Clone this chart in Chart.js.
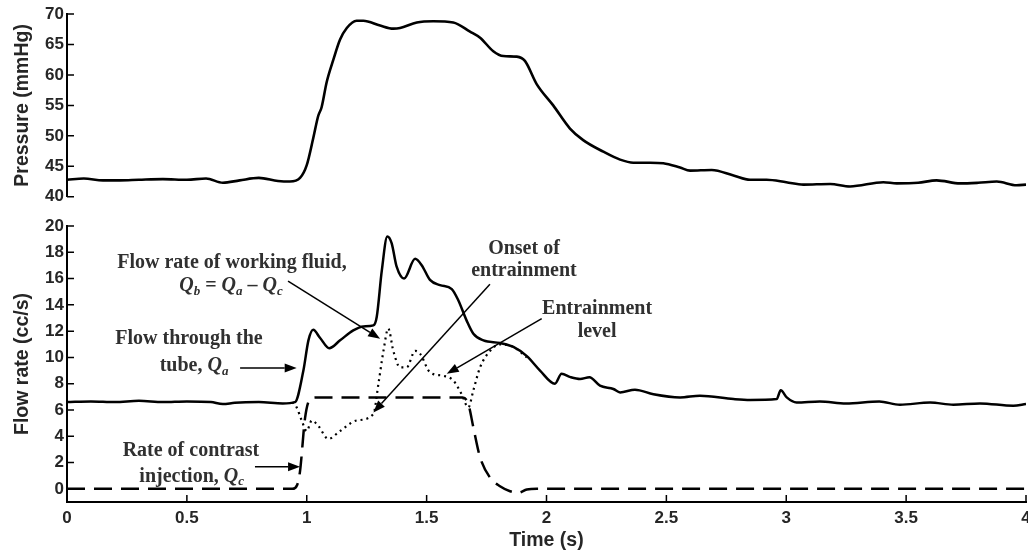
<!DOCTYPE html>
<html>
<head>
<meta charset="utf-8">
<script src="https://cdn.jsdelivr.net/npm/chart.js@4.4.1/dist/chart.umd.min.js"></script>
<style>
  html, body { margin: 0; padding: 0; background: #fff; }
  #wrap { position: relative; width: 1028px; height: 552px; overflow: hidden; }
  #pressureChart { position: absolute; left: 0; top: 0; }
  #flowChart { position: absolute; left: 0; top: 210px; }
</style>
</head>
<body>
<div id="wrap">
  <canvas id="pressureChart" width="1028" height="210"></canvas>
  <canvas id="flowChart" width="1028" height="342"></canvas>
</div>
<script>
// ── tick values ──
const timeTicks = [0, 0.5, 1, 1.5, 2, 2.5, 3, 3.5, 4];
const pressureTicks = [40, 45, 50, 55, 60, 65, 70];
const flowTicks = [0, 2, 4, 6, 8, 10, 12, 14, 16, 18, 20];

// ── pressure (mmHg) ──
const pressureTime = [0, 0.07, 0.15, 0.22, 0.3, 0.4, 0.5, 0.58, 0.65, 0.72, 0.8, 0.88, 0.93, 0.972, 1.0, 1.027,
  1.048, 1.062, 1.083, 1.111, 1.139, 1.167, 1.208, 1.236, 1.306, 1.361, 1.389, 1.459, 1.528, 1.611, 1.681,
  1.723, 1.778, 1.82, 1.876, 1.91, 1.959, 2.028, 2.098, 2.153, 2.237, 2.307, 2.362, 2.432, 2.487, 2.557,
  2.599, 2.689, 2.78, 2.849, 2.918, 3.0, 3.071, 3.183, 3.266, 3.405, 3.461, 3.55, 3.627, 3.725, 3.8,
  3.878, 3.961, 4.0];
const pressure = [42.8, 43.0, 42.7, 42.7, 42.8, 42.9, 42.8, 43.0, 42.3, 42.7, 43.1, 42.6, 42.5, 43.1, 45.2, 49.6,
  53.3, 54.7, 58.8, 62.5, 65.8, 67.7, 68.9, 68.9, 68.1, 67.6, 67.7, 68.6, 68.8, 68.6, 67.1,
  66.1, 63.9, 63.1, 63.0, 62.3, 58.5, 55.0, 51.2, 49.3, 47.4, 46.1, 45.6, 45.6, 45.5, 44.8,
  44.3, 44.4, 43.5, 42.8, 42.8, 42.4, 42.0, 42.1, 41.7, 42.4, 42.2, 42.3, 42.7, 42.2, 42.3,
  42.5, 41.9, 42.0];

// ── flow through the tube, Qa (cc/s) ──
const flowATime = [0, 0.1, 0.2, 0.3, 0.4, 0.5, 0.6, 0.65, 0.7, 0.8, 0.9, 0.951, 0.986, 1.007, 1.027, 1.055,
  1.094, 1.139, 1.194, 1.236, 1.278, 1.292, 1.313, 1.336, 1.354, 1.375, 1.406, 1.452, 1.48, 1.514,
  1.556, 1.605, 1.632, 1.667, 1.695, 1.737, 1.806, 1.862, 1.918, 1.973, 2.035, 2.063, 2.1, 2.14,
  2.179, 2.223, 2.279, 2.307, 2.369, 2.446, 2.557, 2.64, 2.78, 2.849, 2.96, 2.977, 3.002, 3.043,
  3.14, 3.249, 3.388, 3.474, 3.6, 3.697, 3.808, 3.947, 4.0];
const flowA = [6.6, 6.65, 6.6, 6.7, 6.6, 6.65, 6.6, 6.45, 6.55, 6.6, 6.5, 6.6, 9.0, 11.3, 12.1, 11.5,
  10.7, 11.3, 12.06, 12.36, 12.44, 13.1, 16.6, 19.2, 18.7, 16.9, 16.0, 17.5, 17.0, 15.9,
  15.5, 15.2, 14.35, 12.8, 11.8, 11.3, 11.1, 10.8, 10.1, 9.0, 8.0, 8.75, 8.5, 8.36,
  8.49, 7.85, 7.6, 7.34, 7.55, 7.2, 6.96, 7.09, 6.83, 6.76, 6.83, 7.5, 6.96, 6.57,
  6.65, 6.5, 6.65, 6.4, 6.57, 6.4, 6.5, 6.32, 6.45];

// ── rate of contrast injection, Qc (cc/s) ──
const flowCTime = [0, 0.94, 0.96, 0.972, 0.993, 1.014, 1.04, 1.65, 1.674, 1.695, 1.723, 1.765, 1.806,
  1.848, 1.882, 1.918, 1.96, 4.0];
const flowC = [0, 0, 0.3, 1.35, 5.4, 6.83, 6.95, 6.95, 6.45, 4.67, 2.4, 0.84, 0.2,
  -0.18, -0.3, -0.05, 0, 0];

// ── working fluid, Qb = Qa - Qc (cc/s) ──
const flowBTime = [0.94, 0.958, 0.979, 1.0, 1.021, 1.048, 1.09, 1.139, 1.208, 1.278, 1.299, 1.32, 1.34,
  1.361, 1.389, 1.417, 1.452, 1.472, 1.514, 1.57, 1.612, 1.646, 1.674, 1.695, 1.723, 1.765,
  1.806, 1.862, 1.918];
const flowB = [6.6, 6.2, 5.2, 4.4, 5.2, 4.8, 3.8, 4.4, 5.2, 5.7, 8.0, 10.5, 12.2,
  10.5, 9.25, 9.25, 10.5, 10.3, 8.87, 8.6, 8.23, 7.2, 6.2, 7.5, 9.25, 10.5,
  11.0, 10.8, 10.0];

// ── callouts, in data units [time, flow] ──
const notes = [
  { lines: [[['Flow rate of working fluid,', 'n']],
            [['Q', 'q'], ['b', 's'], [' = ', 'n'], ['Q', 'q'], ['a', 's'], [' \u2013 ', 'n'], ['Q', 'q'], ['c', 's']]],
    at: [[0.688, 17.18], [0.684, 15.41]], from: [0.922, 15.8], to: [1.306, 11.42] },
  { lines: [[['Flow through the', 'n']], [['tube, ', 'n'], ['Q', 'q'], ['a', 's']]],
    at: [[0.509, 11.42], [0.53, 9.33]], from: [0.722, 9.2], to: [0.958, 9.2] },
  { lines: [[['Rate of contrast', 'n']], [['injection, ', 'n'], ['Q', 'q'], ['c', 's']]],
    at: [[0.517, 2.88], [0.52, 0.92]], from: [0.784, 1.68], to: [0.972, 1.68] },
  { lines: [[['Onset of', 'n']], [['entrainment', 'n']]],
    at: [[1.906, 18.25], [1.906, 16.57]], from: [1.764, 15.57], to: [1.278, 5.81] },
  { lines: [[['Entrainment', 'n']], [['level', 'n']]],
    at: [[2.211, 13.66], [2.211, 11.98]], from: [1.98, 12.95], to: [1.584, 8.75] }
];

const pts = (xs, ys) => xs.map((x, i) => ({ x, y: ys[i] }));

const SANS = "'Liberation Sans', Arial, sans-serif";
const SERIF = "'Liberation Serif', 'Times New Roman', serif";
const INK = '#262626';

Chart.defaults.animation = false;
Chart.defaults.devicePixelRatio = 1;

/* inward tick marks on left and bottom axes */
const innerTicks = {
  id: 'innerTicks',
  afterDraw(chart) {
    const { ctx, chartArea: a } = chart;
    ctx.save();
    ctx.strokeStyle = '#000';
    ctx.lineWidth = 1.5;
    ctx.beginPath();
    const ys = chart.scales.y;
    ys.ticks.forEach(t => {
      const p = ys.getPixelForValue(t.value);
      ctx.moveTo(a.left, p);
      ctx.lineTo(a.left + 7, p);
    });
    const xs = chart.scales.x;
    if (xs.options.display) {
      xs.ticks.forEach(t => {
        const p = xs.getPixelForValue(t.value);
        ctx.moveTo(p, a.bottom);
        ctx.lineTo(p, a.bottom - 7);
      });
    }
    ctx.stroke();
    ctx.restore();
  }
};

/* text callouts with arrows */
function fontFor(kind) {
  if (kind === 'q') return 'italic bold 20px ' + SERIF;
  if (kind === 's') return 'italic bold 13px ' + SERIF;
  return 'bold 20px ' + SERIF;
}

function drawRuns(ctx, parts, cx, cy) {
  const widths = parts.map(([txt, kind]) => { ctx.font = fontFor(kind); return ctx.measureText(txt).width; });
  let x = cx - widths.reduce((s, w) => s + w, 0) / 2;
  parts.forEach(([txt, kind], i) => {
    ctx.font = fontFor(kind);
    ctx.fillText(txt, x, kind === 's' ? cy + 5 : cy);
    x += widths[i];
  });
}

function drawArrow(ctx, x1, y1, x2, y2) {
  const ang = Math.atan2(y2 - y1, x2 - x1);
  const len = 12, half = 4.5;
  const bx = x2 - len * Math.cos(ang), by = y2 - len * Math.sin(ang);
  ctx.beginPath();
  ctx.moveTo(x1, y1);
  ctx.lineTo(bx, by);
  ctx.stroke();
  ctx.beginPath();
  ctx.moveTo(x2, y2);
  ctx.lineTo(bx + half * Math.sin(ang), by - half * Math.cos(ang));
  ctx.lineTo(bx - half * Math.sin(ang), by + half * Math.cos(ang));
  ctx.closePath();
  ctx.fill();
}

const callouts = {
  id: 'callouts',
  afterDraw(chart) {
    const { ctx } = chart;
    const X = v => chart.scales.x.getPixelForValue(v);
    const Y = v => chart.scales.y.getPixelForValue(v);
    ctx.save();
    ctx.textBaseline = 'middle';
    ctx.textAlign = 'left';
    notes.forEach(n => {
      ctx.fillStyle = '#303030';
      n.lines.forEach((parts, i) => drawRuns(ctx, parts, X(n.at[i][0]), Y(n.at[i][1])));
      ctx.strokeStyle = '#000';
      ctx.fillStyle = '#000';
      ctx.lineWidth = 1.5;
      drawArrow(ctx, X(n.from[0]), Y(n.from[1]), X(n.to[0]), Y(n.to[1]));
    });
    ctx.restore();
  }
};

function yAxis(min, max, ticks, title) {
  return {
    type: 'linear',
    min, max,
    afterBuildTicks: s => { s.ticks = ticks.map(v => ({ value: v })); },
    afterFit: s => { s.width = 67; },
    grid: { drawOnChartArea: false, drawTicks: false },
    border: { display: true, color: '#000', width: 2 },
    ticks: { color: INK, font: { family: SANS, size: 17, weight: 'bold' }, padding: 3 },
    title: { display: true, text: title, color: INK,
             font: { family: SANS, size: 19.5, weight: 'bold' }, padding: { top: 11, bottom: 0 } }
  };
}

const lineStyle = { borderColor: '#000', pointRadius: 0, fill: false, cubicInterpolationMode: 'monotone' };

new Chart(document.getElementById('pressureChart'), {
  type: 'line',
  data: {
    datasets: [{ ...lineStyle, data: pts(pressureTime, pressure), borderWidth: 2.6 }]
  },
  options: {
    responsive: false,
    layout: { padding: { top: 14, right: 2, bottom: 11, left: 0 } },
    plugins: { legend: { display: false }, tooltip: { enabled: false } },
    scales: {
      x: { type: 'linear', min: 0, max: 4, display: false },
      y: yAxis(40, 70, pressureTicks, 'Pressure (mmHg)')
    }
  },
  plugins: [innerTicks]
});

new Chart(document.getElementById('flowChart'), {
  type: 'line',
  data: {
    datasets: [
      { ...lineStyle, data: pts(flowATime, flowA), borderWidth: 2.5, order: 0 },
      { ...lineStyle, data: pts(flowCTime, flowC), borderWidth: 2.5, borderDash: [18, 9], order: 1 },
      { ...lineStyle, data: pts(flowBTime, flowB), borderWidth: 2.2, borderDash: [2, 4], order: 2 }
    ]
  },
  options: {
    responsive: false,
    layout: { padding: { top: 16, right: 2, bottom: 0, left: 0 } },
    plugins: { legend: { display: false }, tooltip: { enabled: false } },
    scales: {
      x: {
        type: 'linear',
        min: 0, max: 4,
        afterBuildTicks: s => { s.ticks = timeTicks.map(v => ({ value: v })); },
        afterFit: s => { s.height = 50; s.paddingLeft = 0; s.paddingRight = 0; },
        grid: { drawOnChartArea: false, drawTicks: false },
        border: { display: true, color: '#000', width: 2 },
        ticks: { color: INK, font: { family: SANS, size: 17, weight: 'bold' }, padding: 6,
                 maxRotation: 0, callback: v => String(v) },
        title: { display: true, text: 'Time (s)', color: INK,
                 font: { family: SANS, size: 19.5, weight: 'bold' }, padding: { top: 0, bottom: 0 } }
      },
      y: yAxis(-1, 20, flowTicks, 'Flow rate (cc/s)')
    }
  },
  plugins: [innerTicks, callouts]
});
</script>
</body>
</html>
